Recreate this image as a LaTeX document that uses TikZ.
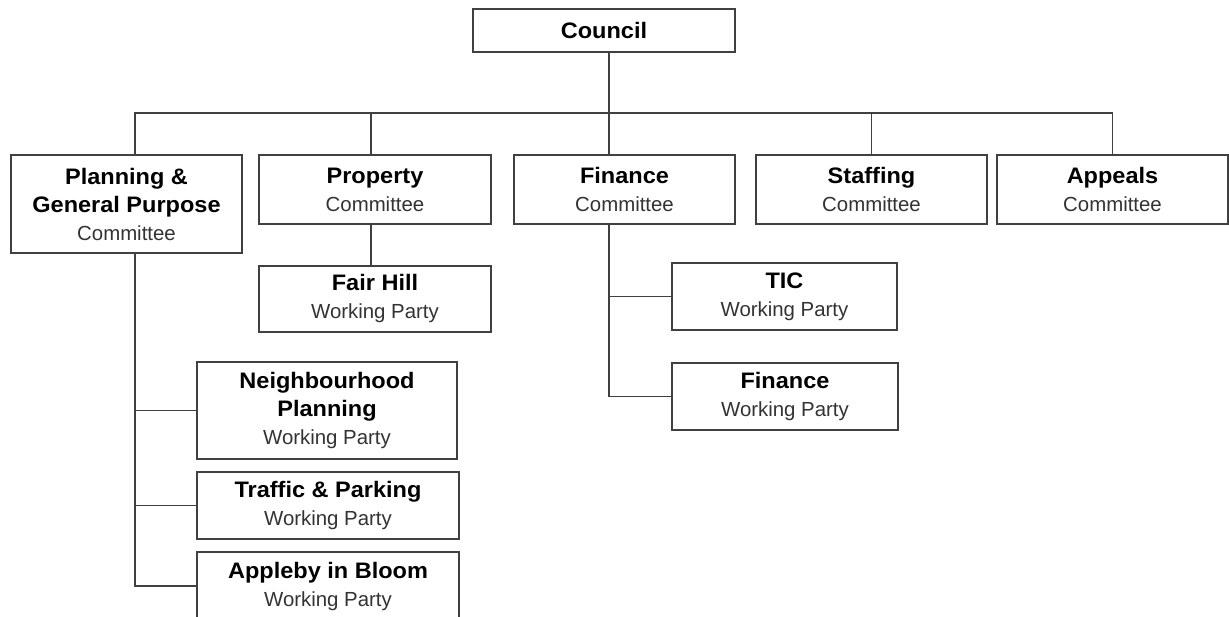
\documentclass[tikz,border=0pt]{standalone}
\usepackage{fontspec}
\setmainfont{Liberation Sans}
\newfontfamily\headfont{Liberation Sans}[FakeStretch=1.05]
\newcommand\boxhead[1]{{\color{black}\headfont\bfseries\fontsize{16.8pt}{21pt}\selectfont #1}}
\definecolor{linegray}{gray}{0.25}
\definecolor{subgray}{gray}{0.2}
\tikzset{box/.style 2 args={draw=linegray, line width=1.1pt, fill=white, align=center,
    inner sep=0pt, minimum width=#1*0.75pt, minimum height=#2*0.75pt,
    text=subgray, font=\fontsize{15.3pt}{21pt}\selectfont}}
\tikzset{link/.style={draw=linegray, line width=1.1pt}}

\begin{document}
\begin{tikzpicture}[x=0.75pt, y=-0.75pt]
  \useasboundingbox (0,0) rectangle (1229,617);

  \node[box={262}{43}] (council) at (604,30.5) {\boxhead{Council}};

  \node[box={231}{98}] (planning) at (126.5,204) {\boxhead{Planning \&}\\\boxhead{General Purpose}\\Committee};
  \node[box={232}{69}] (property) at (375,189.5) {\boxhead{Property}\\Committee};
  \node[box={221}{69}] (finance) at (624.5,189.5) {\boxhead{Finance}\\Committee};
  \node[box={231}{69}] (staffing) at (871.5,189.5) {\boxhead{Staffing}\\Committee};
  \node[box={231}{69}] (appeals) at (1112.5,189.5) {\boxhead{Appeals}\\Committee};

  \node[box={232}{66}] (fairhill) at (375,299) {\boxhead{Fair Hill}\\Working Party};
  \node[box={225}{67}] (tic) at (784.5,296.5) {\boxhead{TIC}\\Working Party};
  \node[box={226}{67}] (financewp) at (785,396.5) {\boxhead{Finance}\\Working Party};

  \node[box={260}{97}] (neighbourhood) at (327,410.5) {\boxhead{Neighbourhood}\\\boxhead{Planning}\\Working Party};
  \node[box={262}{67}] (traffic) at (328,505.5) {\boxhead{Traffic \& Parking}\\Working Party};
  \node[box={262}{68}] (appleby) at (328,586) {\boxhead{Appleby in Bloom}\\Working Party};

  % drop points on the bus
  \coordinate (bus-p) at (135,113);
  \coordinate (bus-r) at (371,113);
  \coordinate (bus-f) at (609,113);
  \coordinate (bus-s) at (871.5,113);
  \coordinate (bus-a) at (1112.5,113);

  \draw[link] (council.south -| bus-f) -- (bus-f |- finance.north);
  \draw[link] (bus-p |- planning.north) -- (bus-p) -- (bus-a) -- (appeals.north);
  \draw[link] (bus-r) -- (bus-r |- property.north);
  \draw[link] (bus-s) -- (staffing.north);

  \draw[link] (bus-r |- property.south) -- (bus-r |- fairhill.north);

  \draw[link] (bus-f |- finance.south) |- (financewp.west);
  \draw[link] (bus-f |- tic.west) -- (tic.west);

  \draw[link] (bus-p |- planning.south) |- (appleby.west);
  \draw[link] (bus-p |- neighbourhood.west) -- (neighbourhood.west);
  \draw[link] (bus-p |- traffic.west) -- (traffic.west);
\end{tikzpicture}
\end{document}
